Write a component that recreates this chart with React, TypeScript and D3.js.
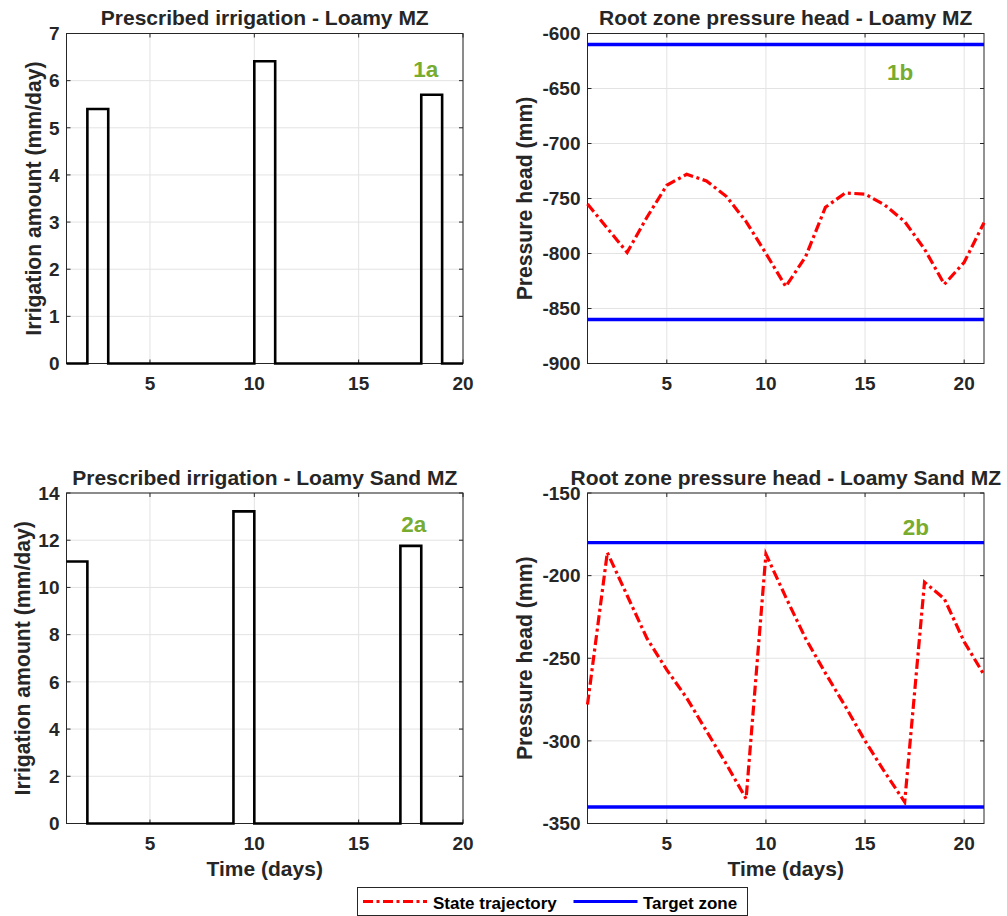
import React from 'react';
import * as d3 from 'd3';

// Daily irrigation prescriptions (mm/day), drawn as stairs over days 1..20
const stepDays = [1, 2, 3, 4, 5, 6, 7, 8, 9, 10, 11, 12, 13, 14, 15, 16, 17, 18, 19, 20];
const loamyIrrigation = [0, 5.4, 0, 0, 0, 0, 0, 0, 0, 6.41, 0, 0, 0, 0, 0, 0, 0, 5.7, 0, 0];
const sandIrrigation = [11.1, 0, 0, 0, 0, 0, 0, 0, 13.22, 0, 0, 0, 0, 0, 0, 0, 11.76, 0, 0, 0];

// Root zone pressure head trajectories (mm) over days 1..21
const stateDays = [1, 2, 3, 4, 5, 6, 7, 8, 9, 10, 11, 12, 13, 14, 15, 16, 17, 18, 19, 20, 21];
const loamyHead = [-755, -777, -799, -767, -738, -728, -734, -748, -771, -800, -830, -803, -758, -745, -746, -756, -771, -796, -828, -808, -772];
const sandHead = [-278, -186, -212, -238, -257, -274, -294, -314, -335, -187, -213, -238, -259, -279, -300, -319, -337, -204, -214, -240, -260];

// Target zone bounds (mm)
const loamyTarget = [-610, -860];
const sandTarget = [-180, -340];

// Tick values
const dayTicks = [5, 10, 15, 20];
const loamyIrrTicks = [0, 1, 2, 3, 4, 5, 6, 7];
const sandIrrTicks = [0, 2, 4, 6, 8, 10, 12, 14];
const loamyHeadTicks = [-900, -850, -800, -750, -700, -650, -600];
const sandHeadTicks = [-350, -300, -250, -200, -150];

const FONT = '"Liberation Sans", Arial, Helvetica, sans-serif';
const INK = '#262626';
const GRID = '#e3e3e3';
const TAG = '#77AC30';
const RED = '#ff0000';
const BLUE = '#0000ff';
const DASHDOT = '10 3.5 3 3.5';

type Box = { left: number; right: number; top: number; bottom: number };
type Scales = { x: d3.ScaleLinear<number, number>; y: d3.ScaleLinear<number, number> };

type PanelProps = {
  box: Box;
  xDomain: [number, number];
  yDomain: [number, number];
  yTicks: number[];
  title: string;
  yLabel: string;
  yLabelX: number;
  xLabel?: string;
  tag: { text: string; x: number; y: number };
  draw: (s: Scales) => React.ReactNode;
};

function Panel({ box, xDomain, yDomain, yTicks, title, yLabel, yLabelX, xLabel, tag, draw }: PanelProps) {
  const x = d3.scaleLinear().domain(xDomain).range([box.left, box.right]);
  const y = d3.scaleLinear().domain(yDomain).range([box.bottom, box.top]);
  const tickLen = 4;
  const cx = (box.left + box.right) / 2;
  const cy = (box.top + box.bottom) / 2;
  return (
    <g>
      <rect x={box.left} y={box.top} width={box.right - box.left} height={box.bottom - box.top} fill="#fff" />
      {/* grid */}
      {dayTicks.map((t) => (
        <line key={'gx' + t} x1={x(t)} x2={x(t)} y1={box.top} y2={box.bottom} stroke={GRID} strokeWidth={1} />
      ))}
      {yTicks.map((t) => (
        <line key={'gy' + t} x1={box.left} x2={box.right} y1={y(t)} y2={y(t)} stroke={GRID} strokeWidth={1} />
      ))}
      {/* axes box and inward ticks */}
      <rect x={box.left} y={box.top} width={box.right - box.left} height={box.bottom - box.top} fill="none" stroke={INK} strokeWidth={1} />
      {dayTicks.map((t) => (
        <g key={'tx' + t}>
          <line x1={x(t)} x2={x(t)} y1={box.bottom} y2={box.bottom - tickLen} stroke={INK} />
          <line x1={x(t)} x2={x(t)} y1={box.top} y2={box.top + tickLen} stroke={INK} />
          <text x={x(t)} y={box.bottom + 26.5} textAnchor="middle" fontSize={19} fontWeight="bold" fill={INK} fontFamily={FONT}>
            {t}
          </text>
        </g>
      ))}
      {yTicks.map((t) => (
        <g key={'ty' + t}>
          <line x1={box.left} x2={box.left + tickLen} y1={y(t)} y2={y(t)} stroke={INK} />
          <line x1={box.right} x2={box.right - tickLen} y1={y(t)} y2={y(t)} stroke={INK} />
          <text x={box.left - 7} y={y(t) + 6.8} textAnchor="end" fontSize={19} fontWeight="bold" fill={INK} fontFamily={FONT}>
            {String(t)}
          </text>
        </g>
      ))}
      {draw({ x, y })}
      <text x={x(tag.x)} y={y(tag.y)} textAnchor="middle" fontSize={22.5} fontWeight="bold" fill={TAG} fontFamily={FONT}>
        {tag.text}
      </text>
      {/* title and labels */}
      <text x={cx} y={box.top - 8.5} textAnchor="middle" fontSize={21} fontWeight="bold" fill={INK} fontFamily={FONT}>
        {title}
      </text>
      <text
        transform={`translate(${yLabelX},${cy}) rotate(-90)`}
        textAnchor="middle"
        fontSize={21.2}
        fontWeight="bold"
        fill={INK}
        fontFamily={FONT}
      >
        {yLabel}
      </text>
      {xLabel && (
        <text x={cx} y={box.bottom + 52} textAnchor="middle" fontSize={21} fontWeight="bold" fill={INK} fontFamily={FONT}>
          {xLabel}
        </text>
      )}
    </g>
  );
}

function Stairs({ s, values }: { s: Scales; values: number[] }) {
  const line = d3
    .line<number>()
    .x((_, i) => s.x(stepDays[i]))
    .y((v) => s.y(v))
    .curve(d3.curveStepAfter);
  return <path d={line(values) || ''} fill="none" stroke="#000" strokeWidth={2.6} strokeLinejoin="miter" />;
}

function Trajectory({ s, values, target }: { s: Scales; values: number[]; target: number[] }) {
  const line = d3
    .line<number>()
    .x((_, i) => s.x(stateDays[i]))
    .y((v) => s.y(v));
  const [x0, x1] = s.x.domain();
  return (
    <g>
      {target.map((t) => (
        <line key={t} x1={s.x(x0)} x2={s.x(x1)} y1={s.y(t)} y2={s.y(t)} stroke={BLUE} strokeWidth={3.4} />
      ))}
      <path d={line(values) || ''} fill="none" stroke={RED} strokeWidth={3.2} strokeDasharray={DASHDOT} />
    </g>
  );
}

export default function App() {
  const leftCol = { left: 66.5, right: 463 };
  const rightCol = { left: 587.5, right: 984 };
  const topRow = { top: 33.5, bottom: 363.5 };
  const bottomRow = { top: 493, bottom: 823.5 };

  return (
    <svg width={1007} height={916} style={{ position: 'absolute', left: 0, top: 0, background: '#fff' }}>
      <rect width={1007} height={916} fill="#fff" />
      <Panel
        box={{ ...leftCol, ...topRow }}
        xDomain={[1, 20]}
        yDomain={[0, 7]}
        yTicks={loamyIrrTicks}
        title="Prescribed irrigation - Loamy MZ"
        yLabel="Irrigation amount (mm/day)"
        yLabelX={40.5}
        tag={{ text: '1a', x: 18.22, y: 6.07 }}
        draw={(s) => <Stairs s={s} values={loamyIrrigation} />}
      />
      <Panel
        box={{ ...rightCol, ...topRow }}
        xDomain={[1, 21]}
        yDomain={[-900, -600]}
        yTicks={loamyHeadTicks}
        title="Root zone pressure head - Loamy MZ"
        yLabel="Pressure head (mm)"
        yLabelX={532}
        tag={{ text: '1b', x: 16.77, y: -642.5 }}
        draw={(s) => <Trajectory s={s} values={loamyHead} target={loamyTarget} />}
      />
      <Panel
        box={{ ...leftCol, ...bottomRow }}
        xDomain={[1, 20]}
        yDomain={[0, 14]}
        yTicks={sandIrrTicks}
        title="Prescribed irrigation - Loamy Sand MZ"
        yLabel="Irrigation amount (mm/day)"
        yLabelX={30}
        xLabel="Time (days)"
        tag={{ text: '2a', x: 17.64, y: 12.33 }}
        draw={(s) => <Stairs s={s} values={sandIrrigation} />}
      />
      <Panel
        box={{ ...rightCol, ...bottomRow }}
        xDomain={[1, 21]}
        yDomain={[-350, -150]}
        yTicks={sandHeadTicks}
        title="Root zone pressure head - Loamy Sand MZ"
        yLabel="Pressure head (mm)"
        yLabelX={532}
        xLabel="Time (days)"
        tag={{ text: '2b', x: 17.57, y: -175.3 }}
        draw={(s) => <Trajectory s={s} values={sandHead} target={sandTarget} />}
      />
      {/* legend */}
      <g>
        <rect x={357.5} y={887.5} width={390} height={28} fill="#fff" stroke={INK} strokeWidth={1} />
        <line x1={363} x2={427} y1={901.5} y2={901.5} stroke={RED} strokeWidth={3.2} strokeDasharray={DASHDOT} />
        <text x={433} y={908.5} fontSize={17} fontWeight="bold" fill="#000" fontFamily={FONT}>
          State trajectory
        </text>
        <line x1={573.5} x2={637.5} y1={901.5} y2={901.5} stroke={BLUE} strokeWidth={3.2} />
        <text x={643} y={908.5} fontSize={17} fontWeight="bold" fill="#000" fontFamily={FONT}>
          Target zone
        </text>
      </g>
    </svg>
  );
}
